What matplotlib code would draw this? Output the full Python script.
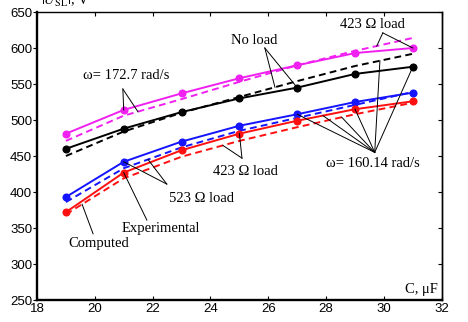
import numpy as np
import matplotlib
matplotlib.use("Agg")
import matplotlib.pyplot as plt

# capacitance, uF
C = [19, 21, 23, 25, 27, 29, 31]

# experimental (solid + dots) and computed (dashed) |U_SL|, V
mag_exp = [481, 514, 537, 558, 576, 593, 600]
mag_comp = [471, 506, 529, 553, 576, 596, 614]
blk_exp = [460, 488, 511, 530, 545, 564, 574]
blk_comp = [450, 484, 510, 532, 554, 575, 592]
blu_exp = [393, 442, 470, 492, 508, 525, 538]
blu_comp = [386, 433, 462, 485, 503, 521, 539]
red_exp = [372, 427, 458, 481, 499, 515, 526]
red_comp = [369, 419, 449, 471, 490, 508, 524]

x_ticks = [18, 20, 22, 24, 26, 28, 30, 32]
y_ticks = [250, 300, 350, 400, 450, 500, 550, 600, 650]

plt.rcParams["font.family"] = ["Liberation Sans", "DejaVu Sans"]
plt.rcParams["mathtext.fontset"] = "stix"
SERIF = ["Liberation Serif", "DejaVu Serif"]

fig = plt.figure(figsize=(4.68, 3.22), dpi=100)
ax = fig.add_axes([0.079, 0.0683, 0.865, 0.8944])

series = [
    (mag_exp, mag_comp, "#f020f0"),
    (blk_exp, blk_comp, "black"),
    (blu_exp, blu_comp, "#1414ff"),
    (red_exp, red_comp, "#ff1010"),
]
for exp, comp, col in series:
    ax.plot(C, comp, color=col, lw=1.4, ls=(0, (3.5, 2.2)), zorder=2)
    ax.plot(C, exp, color=col, lw=1.4, marker="o", ms=4.8, zorder=3)


def on(curve, x):
    return float(np.interp(x, C, curve))


def callout(text, txy, apex, targets):
    ax.text(txy[0], txy[1], text, family=SERIF, fontsize=10.5,
            ha="center", va="center", zorder=5)
    for tx, ty in targets:
        ax.plot([apex[0], tx], [apex[1], ty], color="black", lw=0.7, zorder=4)


callout("\u03c9= 172.7 rad/s", (21.1, 562), (20.97, 543),
        [(C[1], mag_exp[1]), (21.49, on(mag_comp, 21.49))])
callout("No load", (25.5, 611), (25.88, 600),
        [(26.23, on(blk_comp, 26.23)), (C[4], blk_exp[4])])
callout("423 \u03a9 load", (29.6, 632), (29.96, 621),
        [(29.75, on(mag_comp, 29.75)), (C[6], mag_exp[6])])
callout("\u03c9= 160.14 rad/s", (29.6, 440), (29.68, 455),
        [(C[4], blu_exp[4]), (27.89, on(red_exp, 27.89)),
         (28.54, on(red_comp, 28.54)), (C[5], red_exp[5]),
         (29.86, on(blk_comp, 29.86)), (C[6], blk_exp[6])])
callout("423 \u03a9 load", (25.2, 429), (25.09, 447),
        [(24.43, on(red_comp, 24.43)), (C[3], red_exp[3])])
callout("523 \u03a9 load", (23.7, 391), (22.49, 411),
        [(C[1], blu_exp[1]), (21.84, on(blu_comp, 21.84))])
callout("Experimental", (22.3, 350), (21.8, 361), [(C[1], red_exp[1])])
callout("Computed", (20.15, 328), (19.94, 342),
        [(19.56, on(red_comp, 19.56))])

ax.text(31.85, 256, "C, \u03bcF", family=SERIF, fontsize=10.5,
        ha="right", va="bottom")
fig.text(0.088, 1 - 4.5 / 322, r"$|U_{\mathrm{SL}}|$, V", family=SERIF,
         fontsize=10.5, ha="left", va="baseline")

ax.set_xlim(18, 32)
ax.set_ylim(250, 650)
ax.set_xticks(x_ticks)
ax.set_yticks(y_ticks)
ax.tick_params(axis="x", direction="in", top=True, length=3, width=0.8,
               labelsize=9.5, pad=2.5)
ax.tick_params(axis="y", direction="out", length=3, width=0.8,
               labelsize=9.5, pad=0.5)
sec = ax.secondary_yaxis("right")
sec.set_yticks(y_ticks)
sec.tick_params(direction="in", length=3, width=0.8, labelright=False)
sec.spines["right"].set_linewidth(1.0)

for side in ["left", "bottom"]:
    ax.spines[side].set_linewidth(1.7)
for side in ["top", "right"]:
    ax.spines[side].set_linewidth(1.0)

fig.savefig("out.png", dpi=100)
